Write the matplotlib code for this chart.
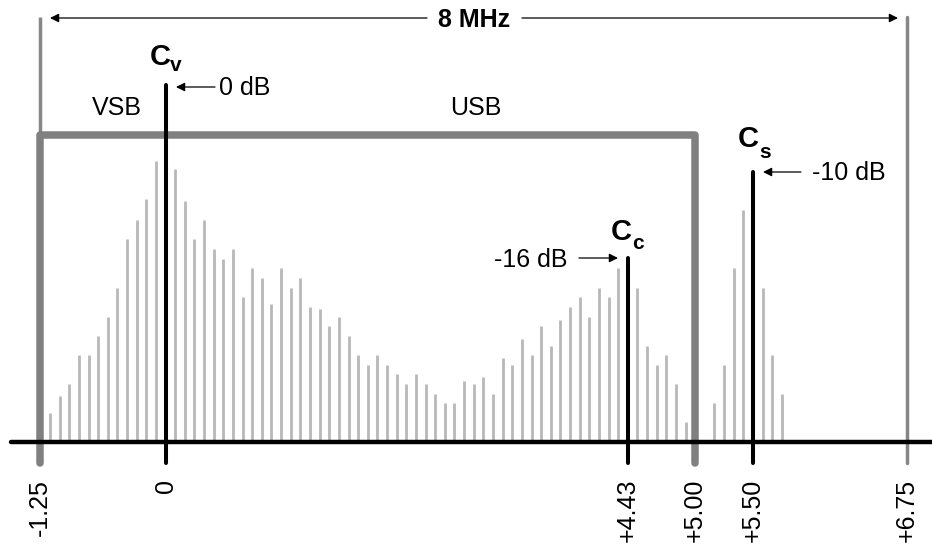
import matplotlib
matplotlib.use("Agg")
import matplotlib.pyplot as plt

plt.rcParams['font.family'] = ['Liberation Sans', 'DejaVu Sans']

# ---------------- data ----------------
# spectral slot index (schematic frequency grid) and relative level (% of vision carrier)
video_idx = list(range(0, 12)) + list(range(13, 60)) + list(range(61, 67))
video_level = [8.2, 13.0, 16.2, 24.4, 24.4, 29.8, 35.1, 43.2, 56.8, 62.2, 68.0, 78.6,
               76.5, 67.5, 56.8, 62.2, 54.1, 51.3, 54.1, 40.5, 48.7, 45.9, 38.6, 48.7,
               43.2, 45.9, 37.8, 37.2, 32.4, 35.1, 29.8, 24.4, 21.7, 24.4, 21.7, 19.0,
               16.2, 19.0, 16.2, 13.5, 10.8, 10.8, 17.2, 16.2, 18.1, 13.5, 23.4, 21.7,
               28.9, 24.4, 32.4, 27.0, 34.1, 37.8, 40.5, 35.1, 43.2, 40.5, 48.7,
               43.2, 27.0, 21.7, 24.4, 16.2, 5.5]
sound_idx = [69, 70, 71, 72, 74, 75, 76]
sound_level = [10.8, 21.7, 48.7, 64.9, 43.2, 24.4, 13.5]

carrier_idx = [12, 60, 73]
carrier_level = [100.0, 51.5, 75.7]
carrier_main = ['C', 'C', 'C']
carrier_sub = ['v', 'c', 's']
carrier_db = ['0 dB', '-16 dB', '-10 dB']

tick_idx = [-1, 12, 60, 67, 73, 89]
tick_labels = ['-1.25', '0', '+4.43', '+5.00', '+5.50', '+6.75']
band_level = 86.1
channel_label = '8 MHz'
band_labels = ['VSB', 'USB']

# ---------------- layout helpers (image px -> data) ----------------
PX0, PXK = 50.0, 9.63
PY0, PYU = 442.0, 3.57
W, H = 932, 548


def X(px):
    return (px - PX0) / PXK


def Y(py):
    return (PY0 - py) / PYU


fig = plt.figure(figsize=(W / 100, H / 100), dpi=100)
ax = fig.add_axes([0, 0, 1, 1])
ax.set_xlim(X(0), X(W))
ax.set_ylim(Y(H), Y(0))
ax.axis('off')

LIGHT = '#b8b8b8'
MID = '#878787'
BOX = '#808080'
FS = 18

# spectral lines
ax.vlines(video_idx, 0, video_level, color=LIGHT, lw=2.0, zorder=1)
ax.vlines(sound_idx, 0, sound_level, color=LIGHT, lw=2.0, zorder=1)

# channel frame lines
y_tick_end = Y(463)
y_top = Y(17)
ax.plot([tick_idx[0], tick_idx[0]], [y_top, band_level], color=MID, lw=2.5,
        solid_capstyle='butt', zorder=2)
ax.plot([tick_idx[5], tick_idx[5]], [y_top, y_tick_end], color=MID, lw=2.5,
        solid_capstyle='round', zorder=2)
# band box
ax.plot([tick_idx[0], tick_idx[0], tick_idx[3], tick_idx[3]],
        [y_tick_end, band_level, band_level, y_tick_end],
        color=BOX, lw=5.4, solid_joinstyle='round', solid_capstyle='round', zorder=2)

# carriers
for ci, cl in zip(carrier_idx, carrier_level):
    ax.plot([ci, ci], [y_tick_end, cl], color='black', lw=2.9,
            solid_capstyle='round', zorder=3)

# baseline axis
ax.plot([X(11), X(W + 20)], [0, 0], color='black', lw=3.2,
        solid_capstyle='round', zorder=4)

# tick labels
for ti, tl in zip(tick_idx, tick_labels):
    ax.text(ti, Y(479), tl, rotation=90, ha='center', va='top', fontsize=FS)

# top 8 MHz arrow
arr = dict(arrowstyle='-|>', lw=0.9, color='black', mutation_scale=13,
           shrinkA=0, shrinkB=0)
ax.annotate('', xy=(X(50), Y(18)), xytext=(X(427), Y(18)), arrowprops=arr)
ax.annotate('', xy=(X(898), Y(18)), xytext=(X(522), Y(18)), arrowprops=arr)
ax.text(X(474), Y(27), channel_label, ha='center', va='baseline',
        fontsize=FS, fontweight='bold')

# band labels
ax.text(X(117), Y(115), band_labels[0], ha='center', va='baseline', fontsize=FS)
ax.text(X(476), Y(115), band_labels[1], ha='center', va='baseline', fontsize=FS)

# carrier names
c_main_pos = [(150, 65), (611, 240), (738, 147)]
c_sub_pos = [(170, 71), (632, 249), (759, 158)]
for m, s, (mx, my), (sx, sy) in zip(carrier_main, carrier_sub, c_main_pos, c_sub_pos):
    ax.text(X(mx), Y(my), m, ha='left', va='baseline', fontsize=21, fontweight='bold')
    ax.text(X(sx), Y(sy), s, ha='left', va='baseline', fontsize=15, fontweight='bold')

# dB annotations
db_arrows = [((176, 87), (215, 87)), ((618, 258), (579, 258)), ((763, 172), (801, 172))]
db_text = [(219, 95, 'left'), (494, 267, 'left'), (812, 180, 'left')]
for (tip, tail), (tx, ty, ha), lab in zip(db_arrows, db_text, carrier_db):
    ax.annotate('', xy=(X(tip[0]), Y(tip[1])), xytext=(X(tail[0]), Y(tail[1])),
                arrowprops=arr)
    ax.text(X(tx), Y(ty), lab, ha=ha, va='baseline', fontsize=FS)

fig.savefig('out.png', dpi=100)
